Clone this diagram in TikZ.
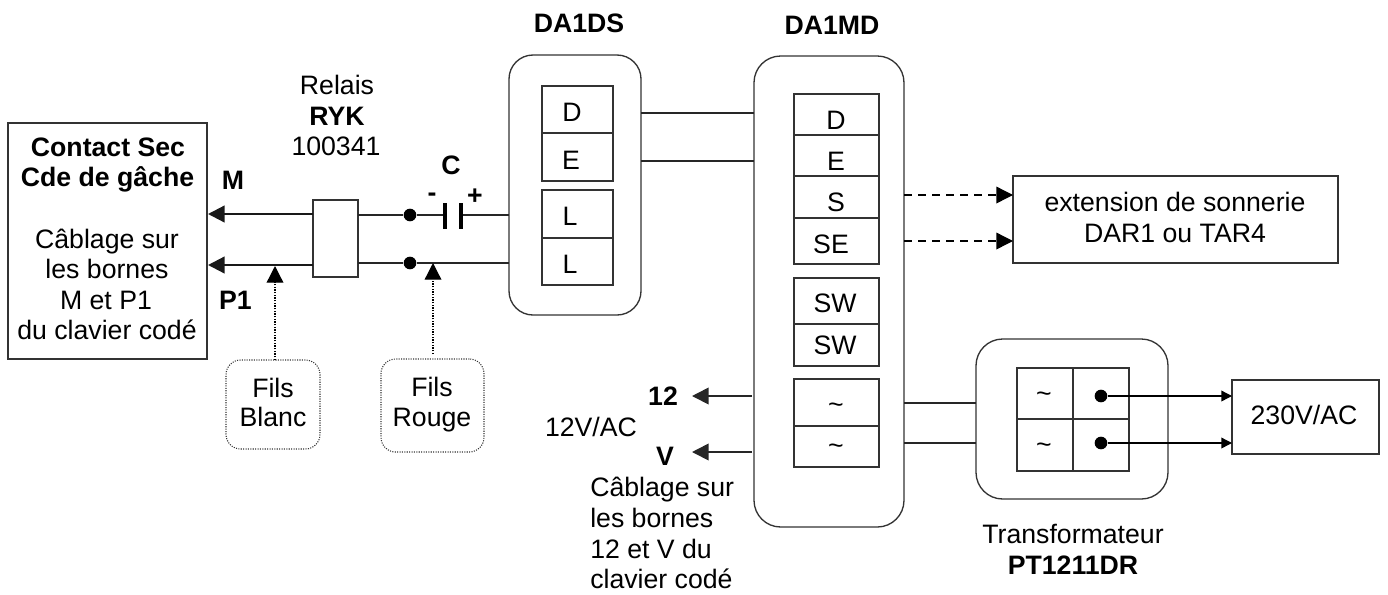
\documentclass[tikz,border=0pt]{standalone}
\usepackage{fontspec}
\setmainfont{Liberation Sans}
\usetikzlibrary{arrows.meta}
\tikzset{
  x=0.75pt,y=-0.75pt,
  box/.style={draw=black!80,line width=1pt,inner sep=0pt,outer sep=0pt,anchor=north west},
  rbox/.style={box,rounded corners=20pt},
  wire/.style={draw=black!85,line width=1.3pt},
  thick wire/.style={draw=black!90,line width=1.7pt},
  tip/.style={-{Triangle[length=12.5pt,width=12.5pt]}},
  smalltip/.style={-{Triangle[length=8pt,width=8pt]}},
  dashwire/.style={draw=black,line width=1pt,dash pattern=on 6pt off 4.5pt},
  dotwire/.style={draw=black,densely dotted,line width=1pt},
  dotbox/.style={draw=black!80,densely dotted,line width=0.8pt,rounded corners=11pt,inner sep=0pt,outer sep=0pt,anchor=north west},
  txt/.style={inner sep=0pt,anchor=base,font=\fontsize{20}{24}\selectfont},
  ltxt/.style={txt,anchor=base west},
  btxt/.style={txt,font=\fontsize{20}{24}\selectfont\bfseries},
  dotmark/.style={circle,fill=black,inner sep=0pt,minimum size=9.5pt},
}
% style, name, x0, y0, x1, y1 (picture pixels)
\newcommand{\pxbox}[6]{%
  \pgfmathsetmacro{\pxw}{(#5-#3)*0.75}%
  \pgfmathsetmacro{\pxh}{(#6-#4)*0.75}%
  \node[#1,minimum width=\pxw pt,minimum height=\pxh pt] (#2) at (#3,#4) {};}
\begin{document}
\begin{tikzpicture}
\useasboundingbox (0,0) rectangle (1388,594);
% left box
\pxbox{box}{cs}{8}{123}{207}{359}
\node[btxt] (cs1) at (108,156) {Contact Sec};
\node[btxt] (cs2) at (107.5,186) {Cde de gâche};
\node[txt] (cs3) at (107,248) {Câblage sur};
\node[txt] (cs4) at (107,278) {les bornes};
\node[txt] (cs5) at (106,309) {M et P1};
\node[txt] (cs6) at (107,339) {du clavier codé};
\node[btxt] (M) at (233,189) {M};
\node[btxt] (P1) at (235.5,309) {P1};
% relay
\node[txt] (r1) at (337,94) {Relais};
\node[btxt] (r2) at (337,125) {RYK};
\node[txt] (r3) at (336,155) {100341};
\pxbox{box,line width=1.2pt}{rel}{313}{200}{358}{277}
\coordinate (mrel) at (313,214);
\coordinate (mcs) at (208,214);
\coordinate (prel) at (313,265);
\coordinate (pcs) at (208,265);
\draw[thick wire,tip] (mrel) -- (mcs);
\draw[thick wire,tip] (prel) -- (pcs);
% DA1DS
\node[btxt] (ds) at (579,32) {DA1DS};
\pxbox{rbox,rounded corners=18pt}{dsb}{509}{55}{641}{315}
\pxbox{box}{d1}{542}{86}{613}{133}
\pxbox{box}{e1}{542}{133}{613}{181}
\pxbox{box}{l1}{542}{190}{613}{238}
\pxbox{box}{l2}{542}{238}{613}{285}
\node[txt] (d1t) at (572,121) {D};
\node[txt] (e1t) at (571,169) {E};
\node[txt] (l1t) at (570,225) {L};
\node[txt] (l2t) at (570,273) {L};
% wires relay to DS
\node[dotmark] (dt) at (410,215) {};
\node[dotmark] (db) at (410,263) {};
\coordinate (relt) at (358,215);
\coordinate (relb) at (358,263);
\coordinate (dst) at (509,215);
\coordinate (dsbb) at (509,263);
\coordinate (capl) at (445,215);
\coordinate (capr) at (461,215);
\draw[wire] (relt) -- (dt) -- (capl);
\draw[wire] (capr) -- (dst);
\draw[wire] (relb) -- (db) -- (dsbb);
\draw[draw=black,line width=3pt] (445,203) -- (445,229);
\draw[draw=black,line width=3pt] (461,203) -- (461,229);
\node[btxt] (C) at (451,174) {C};
\node[btxt] (minus) at (432,201) {-};
\node[btxt] (plus) at (475,204) {+};
% fils
\pxbox{dotbox}{fb}{226}{360}{320}{449}
\node[txt] (fb1) at (273,397) {Fils};
\node[txt] (fb2) at (273,426) {Blanc};
\pxbox{dotbox}{fr}{381}{359}{484}{452}
\node[txt] (fr1) at (432,396) {Fils};
\node[txt] (fr2) at (432,426) {Rouge};
\coordinate (fbs) at (275,360);
\coordinate (fbtip) at (275,266);
\coordinate (frs) at (433,354);
\coordinate (frtip) at (433,263);
\draw[dotwire,tip] (fbs) -- (fbtip);
\draw[dotwire,tip] (frs) -- (frtip);
% DA1MD
\node[btxt] (md) at (832,34) {DA1MD};
\pxbox{rbox}{mdb}{754}{56}{904}{527}
\draw[wire] (641,113) -- (754,113);
\draw[wire] (641,161) -- (754,161);
\pxbox{box}{m1}{794}{94}{879}{135}
\pxbox{box}{m2}{794}{135}{879}{176}
\pxbox{box}{m3}{794}{176}{879}{218}
\pxbox{box}{m4}{794}{218}{879}{264}
\pxbox{box}{m5}{794}{278}{879}{324}
\pxbox{box}{m6}{794}{324}{879}{366}
\pxbox{box}{m7}{794}{379}{879}{426}
\pxbox{box}{m8}{794}{426}{879}{467}
\node[txt] (m1t) at (836,129) {D};
\node[txt] (m2t) at (836,170) {E};
\node[txt] (m3t) at (836,211) {S};
\node[txt] (m4t) at (831,253) {SE};
\node[txt] (m5t) at (835,312) {SW};
\node[txt] (m6t) at (835,354) {SW};
\node[txt] (m7t) at (836,413) {\textasciitilde};
\node[txt] (m8t) at (836,454) {\textasciitilde};
% extension
\pxbox{box}{ext}{1013}{176}{1338}{263}
\node[txt] (ex1) at (1175,211) {extension de sonnerie};
\node[txt] (ex2) at (1175,242) {DAR1 ou TAR4};
\coordinate (da) at (904,195);
\coordinate (daa) at (1013,195);
\coordinate (db2) at (904,241);
\coordinate (dbb) at (1013,241);
\draw[dashwire,tip] (da) -- (daa);
\draw[dashwire,tip] (db2) -- (dbb);
% 12 / V
\node[btxt] (n12) at (663,405) {12};
\node[btxt] (nV) at (665,465) {V};
\node[txt] (ac) at (591,436) {12V/AC};
\coordinate (a12) at (752,396);
\coordinate (t12) at (692,396);
\coordinate (aV) at (752,452);
\coordinate (tV) at (692,452);
\draw[wire,tip] (a12) -- (t12);
\draw[wire,tip] (aV) -- (tV);
\node[ltxt] (c1) at (590,496) {Câblage sur};
\node[ltxt] (c2) at (590,527) {les bornes};
\node[ltxt] (c3) at (590,558) {12 et V du};
\node[ltxt] (c4) at (590,588) {clavier codé};
% transformer
\pxbox{rbox}{tr}{976}{339}{1168}{499}
\draw[wire] (904,403) -- (976,403);
\draw[wire] (904,443) -- (976,443);
\pxbox{box}{t1}{1017}{368}{1073}{419}
\pxbox{box}{t2}{1073}{368}{1129}{419}
\pxbox{box}{t3}{1017}{419}{1073}{471}
\pxbox{box}{t4}{1073}{419}{1129}{471}
\node[txt] (t1t) at (1044,402) {\textasciitilde};
\node[txt] (t3t) at (1044,453) {\textasciitilde};
\node[dotmark] (td1) at (1101,396) {};
\node[dotmark] (td2) at (1101,443) {};
\pxbox{box}{v230}{1232}{380}{1379}{454}
\node[txt] (v230t) at (1304,424) {230V/AC};
\coordinate (v1) at (1232,396);
\coordinate (v2) at (1232,443);
\draw[draw=black,line width=1pt,smalltip] (td1) -- (v1);
\draw[draw=black,line width=1pt,smalltip] (td2) -- (v2);
\node[txt] (tr1) at (1073,543) {Transformateur};
\node[btxt] (tr2) at (1073,574) {PT1211DR};
\end{tikzpicture}
\end{document}
